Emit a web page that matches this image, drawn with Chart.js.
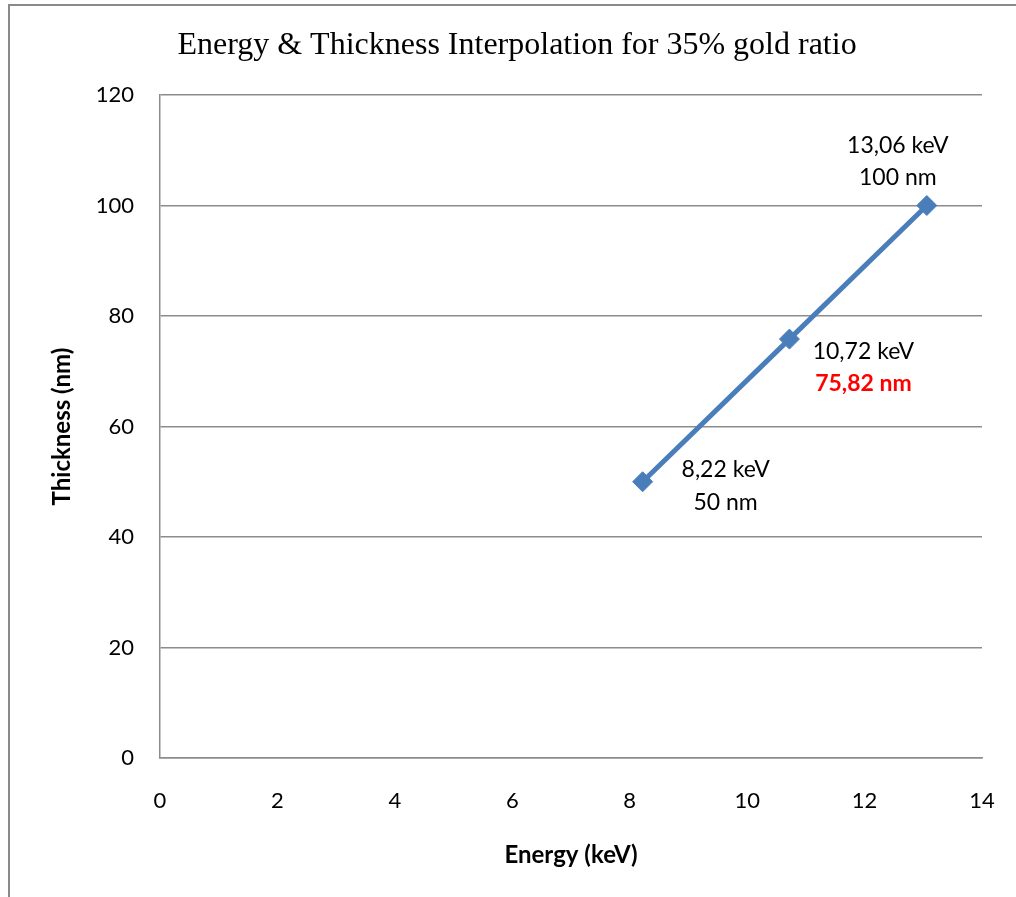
<!DOCTYPE html>
<html>
<head>
<meta charset="utf-8">
<title>Energy &amp; Thickness Interpolation</title>
<script src="https://cdn.jsdelivr.net/npm/chart.js@4.4.1/dist/chart.umd.min.js"></script>
<style>
  html, body { margin: 0; padding: 0; background: #ffffff; }
  #wrap { position: relative; width: 1016px; height: 897px; }
</style>
</head>
<body>
<div id="wrap"><canvas id="chart" width="1016" height="897"></canvas></div>
<script>
// Measured points: energy (keV) against thickness (nm)
const energyKeV = [8.22, 10.72, 13.06];
const thicknessNm = [50, 75.82, 100];
// Which point's thickness label is highlighted
const highlighted = [false, true, false];

const xTicks = [0, 2, 4, 6, 8, 10, 12, 14];
const yTicks = [0, 20, 40, 60, 80, 100, 120];

const chartTitle = 'Energy & Thickness Interpolation for 35% gold ratio';
const xTitle = 'Energy (keV)';
const yTitle = 'Thickness (nm)';

const SANS = 'Lato, "Open Sans", sans-serif';
const LINE_BLUE = '#4a7ebb';
const GRID = '#8c8c8c';

const fmt = v => String(v).replace('.', ',');

// Label placement (pixel offsets from each marker): [dx, dy first line, dy second line]
const labelOffsets = [[83, -12, 21], [74, 12, 44], [-29, -60, -28]];

const framePlugin = {
  id: 'frame',
  beforeDraw(chart) {
    const ctx = chart.ctx;
    ctx.save();
    ctx.fillStyle = '#ffffff';
    ctx.fillRect(0, 0, chart.width, chart.height);
    ctx.strokeStyle = '#8a8a8a';
    ctx.lineWidth = 2;
    ctx.beginPath();
    ctx.moveTo(9, chart.height);
    ctx.lineTo(9, 5);
    ctx.lineTo(chart.width, 5);
    ctx.stroke();
    ctx.restore();
  }
};

const titlePlugin = {
  id: 'serifTitle',
  afterDraw(chart) {
    const ctx = chart.ctx;
    ctx.save();
    ctx.font = '32px "Liberation Serif", "Times New Roman", serif';
    ctx.fillStyle = '#000000';
    ctx.textAlign = 'center';
    ctx.textBaseline = 'alphabetic';
    ctx.fillText(chartTitle, 517, 54);
    ctx.restore();
  }
};

const pointLabelPlugin = {
  id: 'pointLabels',
  afterDatasetsDraw(chart) {
    const ctx = chart.ctx;
    const xs = chart.scales.x, ys = chart.scales.y;
    ctx.save();
    ctx.textAlign = 'center';
    ctx.textBaseline = 'middle';
    energyKeV.forEach((e, i) => {
      const px = xs.getPixelForValue(e);
      const py = ys.getPixelForValue(thicknessNm[i]);
      const [dx, dy1, dy2] = labelOffsets[i];
      ctx.font = '23px ' + SANS;
      ctx.fillStyle = '#000000';
      ctx.fillText(fmt(e) + ' keV', px + dx, py + dy1);
      if (highlighted[i]) {
        ctx.font = 'bold 23px ' + SANS;
        ctx.fillStyle = '#ff0000';
      }
      ctx.fillText(fmt(thicknessNm[i]) + ' nm', px + dx, py + dy2);
    });
    ctx.restore();
  }
};

new Chart(document.getElementById('chart'), {
  type: 'line',
  data: {
    datasets: [{
      data: energyKeV.map((e, i) => ({ x: e, y: thicknessNm[i] })),
      borderColor: LINE_BLUE,
      backgroundColor: LINE_BLUE,
      borderWidth: 5,
      pointStyle: 'rectRot',
      pointRadius: 10,
      pointBorderWidth: 1,
      pointBackgroundColor: LINE_BLUE,
      pointBorderColor: LINE_BLUE,
      tension: 0,
      fill: false
    }]
  },
  options: {
    responsive: false,
    animation: false,
    devicePixelRatio: 1,
    layout: { padding: { top: 95, right: 34, left: 0, bottom: 0 } },
    plugins: {
      legend: { display: false },
      title: { display: false },
      tooltip: { enabled: false }
    },
    scales: {
      x: {
        type: 'linear',
        min: xTicks[0],
        max: xTicks[xTicks.length - 1],
        afterBuildTicks(scale) { scale.ticks = xTicks.map(v => ({ value: v })); },
        afterFit(scale) { scale.height = 139; },
        // no vertical grid lines; the invisible tick length spaces the labels below the axis
        grid: { display: true, color: 'rgba(0,0,0,0)', drawOnChartArea: false, drawTicks: true, tickLength: 27, tickColor: 'rgba(0,0,0,0)' },
        border: { display: true, color: GRID, width: 1.5 },
        ticks: { color: '#000000', font: { family: SANS, size: 22 }, padding: 3 },
        title: {
          display: true, text: xTitle, color: '#000000',
          font: { family: SANS, size: 24, weight: 'bold' },
          padding: { top: 0, bottom: 27 }
        }
      },
      y: {
        min: yTicks[0],
        max: yTicks[yTicks.length - 1],
        afterBuildTicks(scale) { scale.ticks = yTicks.map(v => ({ value: v })); },
        afterFit(scale) { scale.width = 160; },
        grid: { color: GRID, lineWidth: 1.5, drawTicks: false },
        border: { display: true, color: GRID, width: 1.5 },
        ticks: { color: '#000000', font: { family: SANS, size: 22 }, padding: 26 },
        title: {
          display: true, text: yTitle, color: '#000000',
          font: { family: SANS, size: 24, weight: 'bold' },
          padding: { top: 48, bottom: 0 }
        }
      }
    }
  },
  plugins: [framePlugin, titlePlugin, pointLabelPlugin]
});
</script>
</body>
</html>
